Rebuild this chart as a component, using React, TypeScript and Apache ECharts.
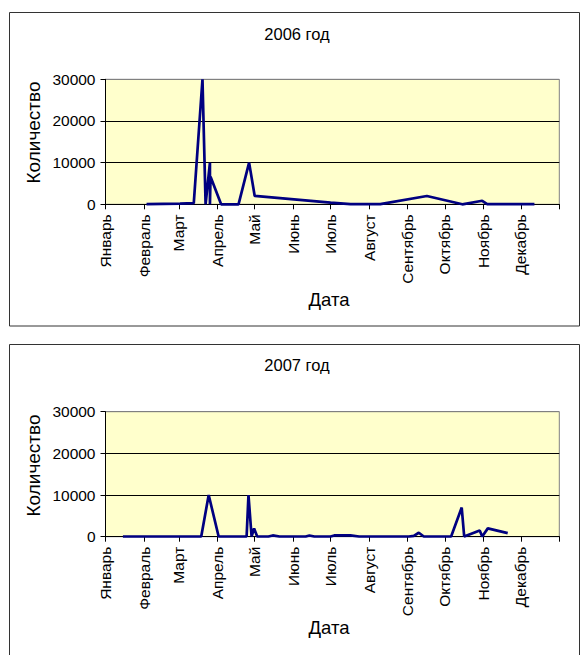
import React, { useEffect, useRef } from "react";
import * as echarts from "echarts";

// Month names (tick labels) and month-start day-of-year positions
const monthNames = ["Январь", "Февраль", "Март", "Апрель", "Май", "Июнь", "Июль", "Август", "Сентябрь", "Октябрь", "Ноябрь", "Декабрь"];
const monthStarts = [0, 31, 59, 90, 120, 151, 181, 212, 243, 273, 304, 334];
const tickDays = [0, 31, 59, 90, 120, 151, 181, 212, 243, 273, 304, 334, 365];
const yTicks = [0, 10000, 20000, 30000];

// 2006: [day of year, count]
const days2006 = [33, 60, 71, 78, 80.5, 84, 84, 84.5, 93, 107, 115.5, 120, 181, 197, 221, 258.5, 287, 303, 307, 345];
const values2006 = [50, 150, 300, 30000, 0, 10000, 0, 6600, 0, 0, 10000, 2000, 400, 50, 30, 2000, 0, 850, 50, 30];

// 2007: [day of year, count]
const days2007 = [14, 77, 83, 91, 113.5, 115, 117.5, 119.5, 122, 131, 134.5, 140, 161, 164, 168, 181, 184, 197, 204, 244, 248, 252, 256, 278, 286.5, 288.5, 301, 303, 307.5, 323.5];
const values2007 = [50, 50, 10000, 50, 50, 10000, 50, 2000, 50, 50, 300, 50, 50, 300, 50, 50, 300, 300, 50, 50, 200, 950, 50, 50, 7000, 50, 1500, 50, 2000, 850];

const titles = ["2006 год", "2007 год"];
const yName = "Количество";
const xName = "Дата";

const FONT = "'Liberation Sans', Arial, sans-serif";

export default function App() {
  const ref = useRef<HTMLDivElement>(null);
  useEffect(() => {
    if (!ref.current) return;
    const chart = echarts.init(ref.current, null, { renderer: "svg" });
    const gridTops = [79.3, 411.7];
    const gridH = 125;
    const grids = gridTops.map((t) => ({
      left: 105.5,
      top: t,
      width: 453.8,
      height: gridH,
      show: true,
      backgroundColor: "#FFFFCC",
      borderColor: "#808080",
      borderWidth: 1,
    }));
    const xAxes = [0, 1].map((i) => ({
      type: "value" as const,
      gridIndex: i,
      min: 0,
      max: 365,
      axisLine: { show: true, lineStyle: { color: "#000", width: 1 } },
      axisTick: { show: true, length: 5, customValues: tickDays, lineStyle: { color: "#000" } },
      axisLabel: {
        customValues: monthStarts,
        rotate: 90,
        margin: 10,
        color: "#000",
        fontFamily: FONT,
        fontSize: 15.5,
        formatter: (v: number) => monthNames[monthStarts.indexOf(Math.round(v))] ?? "",
      },
      splitLine: { show: false },
    }));
    const yAxes = [0, 1].map((i) => ({
      type: "value" as const,
      gridIndex: i,
      min: yTicks[0],
      max: yTicks[yTicks.length - 1],
      interval: 10000,
      axisLine: { show: true, lineStyle: { color: "#000", width: 1 } },
      axisTick: { show: true, length: 5, lineStyle: { color: "#000" } },
      axisLabel: { margin: 10, color: "#000", fontFamily: FONT, fontSize: 15.5, formatter: (v: number) => String(v) },
      splitLine: { show: true, lineStyle: { color: ["#000", "#000", "#000", "#808080"], width: 1 } },
    }));
    const series = [
      { days: days2006, values: values2006 },
      { days: days2007, values: values2007 },
    ].map((s, i) => ({
      type: "line" as const,
      xAxisIndex: i,
      yAxisIndex: i,
      data: s.days.map((d, k) => [d, s.values[k]]),
      showSymbol: false,
      symbol: "none",
      lineStyle: { color: "#000080", width: 2.7 },
      clip: false,
    }));
    const textStyle = (size: number) => ({ fill: "#000", fontFamily: FONT, fontSize: size, align: "center", verticalAlign: "middle" });
    const graphic = [
      { type: "rect", shape: { x: 9.5, y: 12.5, width: 570, height: 313.5 }, style: { fill: "none", stroke: "#333", lineWidth: 1 }, z: 0 },
      { type: "rect", shape: { x: 9.5, y: 344.5, width: 570, height: 330 }, style: { fill: "none", stroke: "#333", lineWidth: 1 }, z: 0 },
      { type: "text", x: 297, y: 34, style: { text: titles[0], ...textStyle(16.5) } },
      { type: "text", x: 297, y: 365, style: { text: titles[1], ...textStyle(16.5) } },
      { type: "text", x: 33, y: 132.5, rotation: Math.PI / 2, style: { text: yName, ...textStyle(19) } },
      { type: "text", x: 33, y: 465.5, rotation: Math.PI / 2, style: { text: yName, ...textStyle(19) } },
      { type: "text", x: 329, y: 299, style: { text: xName, ...textStyle(18.5) } },
      { type: "text", x: 329, y: 627.5, style: { text: xName, ...textStyle(18.5) } },
    ];
    chart.setOption({
      animation: false,
      backgroundColor: "#fff",
      grid: grids,
      xAxis: xAxes,
      yAxis: yAxes,
      series,
      graphic,
    });
    return () => chart.dispose();
  }, []);
  return <div ref={ref} style={{ position: "absolute", left: 0, top: 0, width: 582, height: 655 }} />;
}
